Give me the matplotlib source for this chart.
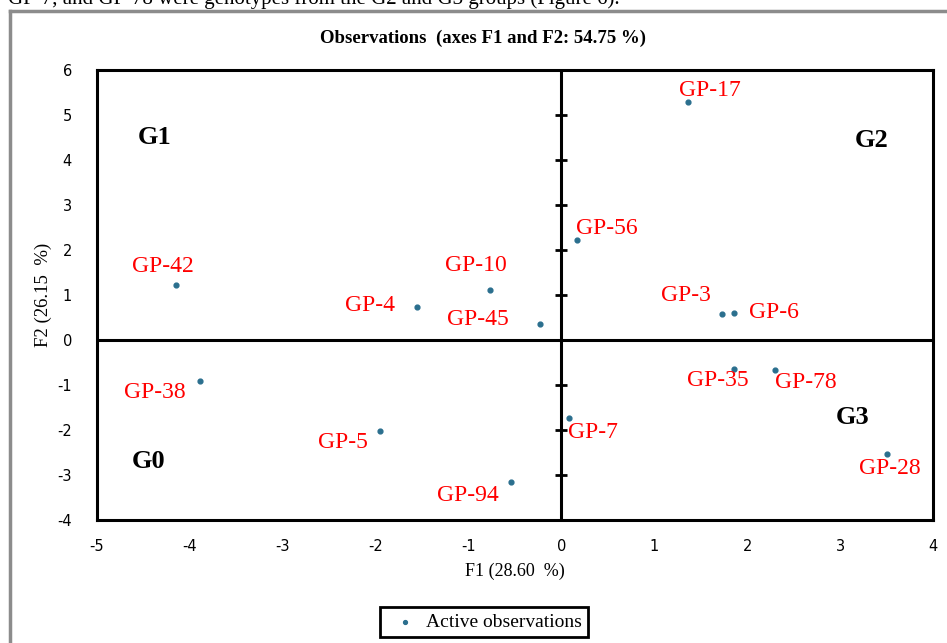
import matplotlib.pyplot as plt
from matplotlib.lines import Line2D
import numpy as np

plt.rcParams["axes.unicode_minus"] = False

# observation scores on the first two factors
names = ["GP-17", "GP-56", "GP-42", "GP-10", "GP-4", "GP-45", "GP-3", "GP-6",
         "GP-38", "GP-35", "GP-78", "GP-7", "GP-5", "GP-94", "GP-28"]
f1 = [1.36, 0.17, -4.15, -0.77, -1.55, -0.23, 1.73, 1.86,
      -3.89, 1.86, 2.30, 0.08, -1.95, -0.54, 3.50]
f2 = [5.29, 2.22, 1.22, 1.11, 0.73, 0.36, 0.58, 0.60,
      -0.91, -0.64, -0.67, -1.73, -2.02, -3.16, -2.53]

groups = ["G1", "G2", "G3", "G0"]
group_x = [-4.38, 3.34, 3.13, -4.45]
group_y = [4.49, 4.44, -1.73, -2.71]

# label offsets in pixels (dx right, dy down)
offsets = [(22, -11), (30, -12), (-13, -19), (-14, -25), (-47, -2), (-62, -4),
           (-36, -18), (40, -1), (-45, 12), (-16, 12), (31, 12), (24, 15),
           (-37, 12), (-43, 13), (3, 15)]

serif = ["Liberation Serif", "DejaVu Serif"]
dot = "#2b6f8e"

fig = plt.figure(figsize=(9.47, 6.43), dpi=100)
ax = fig.add_axes([97/947, 1-520/643, 836/947, 450/643])

ax.scatter(f1, f2, s=12, color=dot, zorder=3, label="Active observations")

ax.axhline(0, color="black", lw=2.2, zorder=2)
ax.axvline(0, color="black", lw=2.2, zorder=2)
yt = np.arange(-3, 6)
ax.plot(np.zeros(len(yt)), yt, ls="none", marker="_", ms=9, mew=2.0,
        color="black", zorder=2)

for n, x, y, (dx, dy) in zip(names, f1, f2, offsets):
    ax.annotate(n, (x, y), xytext=(dx*0.72, -dy*0.72), textcoords="offset points",
                ha="center", va="center", color="#ff0000", fontsize=17,
                family=serif)

for g, x, y in zip(groups, group_x, group_y):
    ax.text(x, y, g, fontsize=19, fontweight="bold", family=serif,
            ha="center", va="center")

ax.set_xlim(-5, 4)
ax.set_ylim(-4, 6)
ax.set_xticks(np.arange(-5, 5))
ax.set_yticks(np.arange(-4, 7))
ax.tick_params(length=0, labelsize=10.5, pad=14)
ax.tick_params(axis="y", pad=18)
for s in ax.spines.values():
    s.set_linewidth(2.2)

ax.set_xlabel("F1 (28.60  %)", family=serif, fontsize=13, labelpad=6)
ax.set_ylabel("F2 (26.15  %)", family=serif, fontsize=13.5, labelpad=4)
fig.text(483/947, 1-38/643, "Observations  (axes F1 and F2: 54.75 %)",
         ha="center", va="center", family=serif, fontweight="bold", fontsize=13.5)

leg = ax.legend(loc="center", bbox_to_anchor=(484/947, 1-622/643),
                bbox_transform=fig.transFigure,
                prop={"family": serif, "size": 14}, fancybox=False,
                edgecolor="black", framealpha=1, handletextpad=0.1,
                markerscale=0.8, borderpad=0.3)
leg.get_frame().set_linewidth(2)

# frame of the screenshot and the cut-off caption line above it
fig.add_artist(Line2D([10/947, 10/947], [0, 1-11/643], color="#8c8c8c", lw=2.5))
fig.add_artist(Line2D([10/947, 1], [1-11/643, 1-11/643], color="#8c8c8c", lw=2.5))
fig.text(8/947, 1-4/643, "GP-7, and GP-78 were genotypes from the G2 and G3 groups (Figure 6).",
         ha="left", va="baseline", family=serif, fontsize=15)

fig.savefig("out.png", dpi=100)
